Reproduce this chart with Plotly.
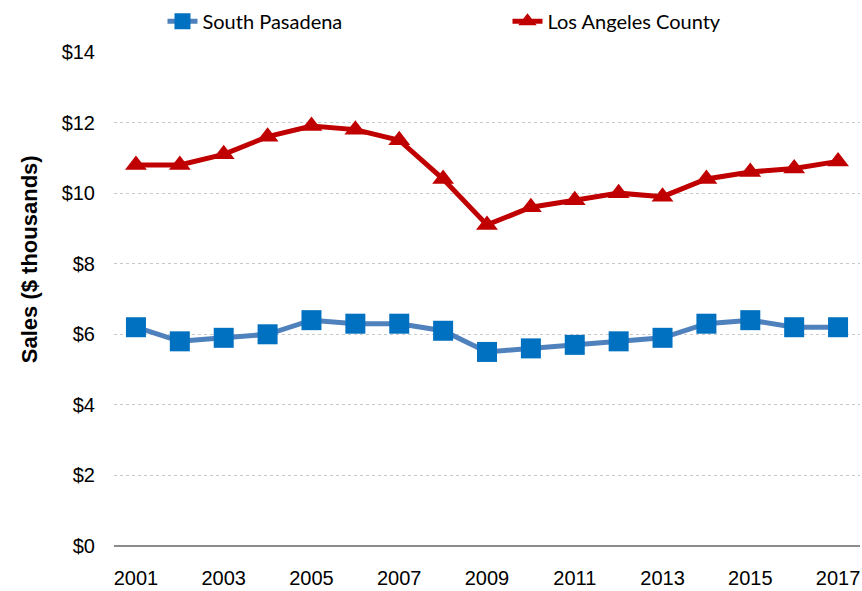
import plotly.graph_objects as go

years = list(range(2001, 2018))
south_pasadena = [6.2, 5.8, 5.9, 6.0, 6.4, 6.3, 6.3, 6.1, 5.5, 5.6, 5.7, 5.8, 5.9, 6.3, 6.4, 6.2, 6.2]
la_county = [10.8, 10.8, 11.1, 11.6, 11.9, 11.8, 11.5, 10.4, 9.1, 9.6, 9.8, 10.0, 9.9, 10.4, 10.6, 10.7, 10.9]
y_ticks = [0, 2, 4, 6, 8, 10, 12, 14]
y_tick_labels = ["$" + str(v) for v in y_ticks]

tick_font = dict(family="Liberation Sans, Arial", size=20, color="#000000")

fig = go.Figure()
fig.add_trace(go.Scatter(
    x=years, y=south_pasadena, name="South Pasadena", mode="lines+markers",
    line=dict(color="#4F81BD", width=5),
    marker=dict(symbol="square", size=20, color="#0070C0"),
))
fig.add_trace(go.Scatter(
    x=years, y=la_county, name="Los Angeles County", mode="lines+markers",
    line=dict(color="#C00000", width=5),
    marker=dict(symbol="triangle-up", size=19, color="#C00000"),
))

# y-axis title as a rotated annotation so it can sit slightly above centre
fig.add_annotation(
    text="<b>Sales ($ thousands)</b>", textangle=-90,
    xref="paper", yref="paper", x=-0.113, y=0.58, xanchor="center", yanchor="middle",
    showarrow=False, font=dict(family="Liberation Sans, Arial", size=22, color="#000000"),
)

fig.update_layout(
    width=862, height=591,
    margin=dict(l=114, r=2, t=48, b=45),
    paper_bgcolor="white", plot_bgcolor="white",
    showlegend=True,
    legend=dict(
        orientation="h", x=0.065, y=1.062, xanchor="left", yanchor="middle",
        entrywidth=300, entrywidthmode="pixels",
        font=dict(family="Lato, Liberation Sans", size=20, color="#000000"),
        bgcolor="rgba(0,0,0,0)",
    ),
    xaxis=dict(
        range=[2000.5, 2017.5], tick0=2001, dtick=2, tickformat="d",
        showgrid=False, zeroline=False, showline=False,
        ticks="", tickfont=tick_font, ticklabelstandoff=18,
    ),
    yaxis=dict(
        range=[0, 14], tickvals=y_ticks, ticktext=y_tick_labels,
        showgrid=True, gridcolor="#C8C8C8", griddash="dot", gridwidth=1,
        zeroline=True, zerolinecolor="#8C8C8C", zerolinewidth=2,
        showline=False, ticks="", tickfont=tick_font, ticklabelstandoff=18,
    ),
)

fig.write_html("out.html")
